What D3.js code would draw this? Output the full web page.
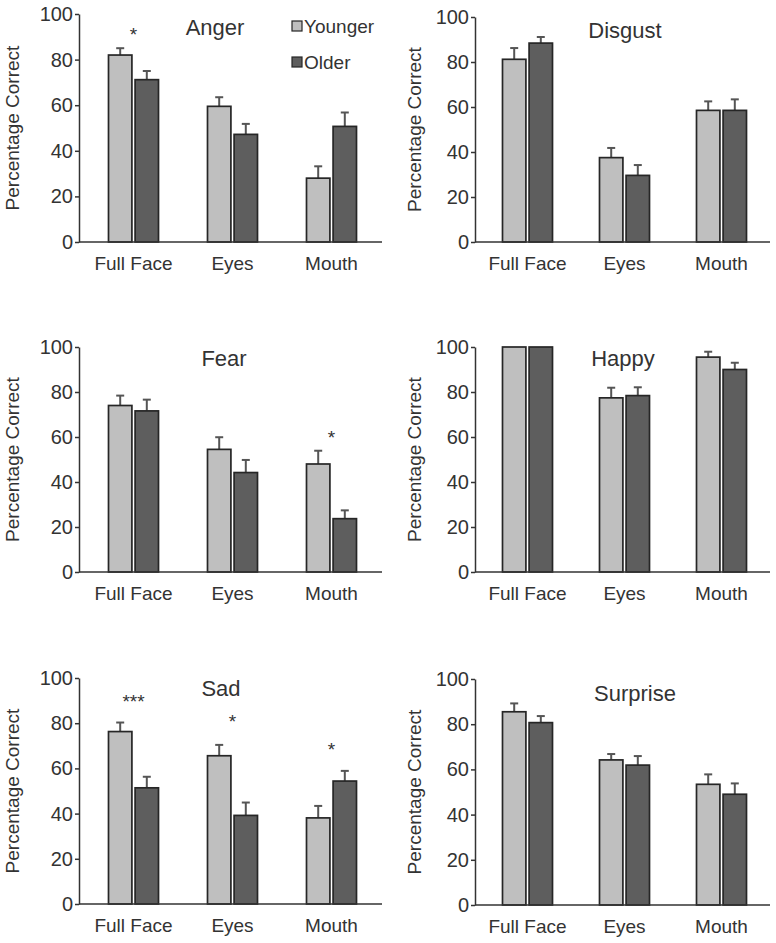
<!DOCTYPE html>
<html>
<head>
<meta charset="utf-8">
<script src="https://cdn.jsdelivr.net/npm/d3@7"></script>
<style>
  body { margin: 0; background: #fff; }
  svg { display: block; }
  text { font-family: "Liberation Sans", Arial, sans-serif; fill: #333; }
</style>
</head>
<body>
<svg id="chart" width="776" height="943"></svg>
<script>
// ---- data ----
const categories = ["Full Face", "Eyes", "Mouth"];
const emotions = ["Anger", "Disgust", "Fear", "Happy", "Sad", "Surprise"];
const seriesNames = ["Younger", "Older"];
const yTicks = [0, 20, 40, 60, 80, 100];

const younger = [
  [82, 59.5, 28],
  [81.2, 37.5, 58.5],
  [74, 54.5, 48],
  [100, 77.4, 95.5],
  [76.3, 65.6, 38.1],
  [85.5, 64.2, 53.4]
];
const youngerErr = [
  [3, 4, 5.2],
  [5, 4.3, 4],
  [4.4, 5.4, 5.9],
  [0, 4.5, 2.4],
  [4, 4.8, 5.3],
  [3.7, 2.6, 4.4]
];
const older = [
  [71.2, 47.2, 50.7],
  [88.4, 29.6, 58.5],
  [71.6, 44.2, 23.7],
  [100, 78.4, 90],
  [51.4, 39.2, 54.4],
  [80.7, 61.9, 49]
];
const olderErr = [
  [3.8, 4.6, 6.1],
  [2.7, 4.6, 4.9],
  [5, 5.6, 3.7],
  [0, 3.7, 3],
  [4.9, 5.7, 4.5],
  [2.9, 4, 4.8]
];
// significance markers
const sigPanel = [0, 2, 4, 4, 4];
const sigCategory = ["Full Face", "Mouth", "Full Face", "Eyes", "Mouth"];
const sigLabel = ["*", "*", "***", "*", "*"];
const sigValue = [94, 63, 92.5, 83.7, 71.3];

// ---- layout ----
const layout = [
  { ax: 79,  right: 382, top: 14,  bottom: 242, bandL: 84,  bandR: 381, titleX: 215, titleY: 35,  labelX: 12 },
  { ax: 475, right: 770, top: 17,  bottom: 242, bandL: 479, bandR: 770, titleX: 625, titleY: 38,  labelX: 414 },
  { ax: 79,  right: 382, top: 347, bottom: 572, bandL: 84,  bandR: 381, titleX: 224, titleY: 366, labelX: 12 },
  { ax: 475, right: 770, top: 347, bottom: 572, bandL: 479, bandR: 770, titleX: 623, titleY: 366, labelX: 414 },
  { ax: 79,  right: 382, top: 678, bottom: 904, bandL: 84,  bandR: 381, titleX: 221, titleY: 696, labelX: 12 },
  { ax: 475, right: 770, top: 679, bottom: 905, bandL: 479, bandR: 770, titleX: 635, titleY: 701, labelX: 414 }
];
const colors = { Younger: "#bfbfbf", Older: "#5e5e5e" };
const strokeCol = "#262626";
const errCol = "#555";
const barW = 22, gap = 6;

const svg = d3.select("#chart");

emotions.forEach((emo, i) => {
  const L = layout[i];
  const g = svg.append("g");
  const y = d3.scaleLinear().domain([0, 100]).range([L.bottom, L.top]);
  const x = d3.scaleBand().domain(categories).range([L.bandL, L.bandR]);
  const xs = d3.scaleBand().domain(seriesNames).range([-barW - gap / 2, barW + gap / 2]).paddingInner(gap / (2 * barW + gap));

  // y axis
  const yAxis = d3.axisLeft(y).tickValues(yTicks).tickSize(4).tickPadding(2).tickSizeOuter(0);
  const ya = g.append("g").attr("transform", `translate(${L.ax},0)`).call(yAxis);
  ya.select(".domain").attr("stroke", "#333").attr("stroke-width", 1.5);
  ya.selectAll(".tick line").attr("stroke", "#333").attr("stroke-width", 1.5);
  ya.selectAll(".tick text").style("font-size", "20px").attr("fill", "#333")
    .style("font-family", "'Liberation Sans', Arial, sans-serif");

  // y label
  g.append("text")
    .attr("transform", `translate(${L.labelX},${(L.top + L.bottom) / 2}) rotate(-90)`)
    .attr("text-anchor", "middle").attr("dy", "0.35em")
    .style("font-size", "19px").text("Percentage Correct");

  const rows = categories.map((c, k) => [
    { cat: c, s: "Younger", v: younger[i][k], e: youngerErr[i][k] },
    { cat: c, s: "Older", v: older[i][k], e: olderErr[i][k] }
  ]).flat();

  // error bars (upper only)
  rows.forEach(d => {
    const cx = x(d.cat) + x.bandwidth() / 2 + xs(d.s) + xs.bandwidth() / 2;
    if (d.e > 0) {
      g.append("line").attr("x1", cx).attr("x2", cx)
        .attr("y1", y(d.v)).attr("y2", y(d.v + d.e))
        .attr("stroke", errCol).attr("stroke-width", 2);
      g.append("line").attr("x1", cx - 4).attr("x2", cx + 4)
        .attr("y1", y(d.v + d.e)).attr("y2", y(d.v + d.e))
        .attr("stroke", errCol).attr("stroke-width", 2);
    }
  });

  // bars
  g.selectAll("rect.bar").data(rows).join("rect")
    .attr("class", "bar")
    .attr("x", d => x(d.cat) + x.bandwidth() / 2 + xs(d.s))
    .attr("width", xs.bandwidth())
    .attr("y", d => y(d.v))
    .attr("height", d => y(0) - y(d.v))
    .attr("fill", d => colors[d.s])
    .attr("stroke", strokeCol).attr("stroke-width", 1.7);

  // baseline
  g.append("line").attr("x1", L.ax).attr("x2", L.right)
    .attr("y1", y(0)).attr("y2", y(0))
    .attr("stroke", "#333").attr("stroke-width", 1.5);

  // x labels
  const xAxis = d3.axisBottom(x).tickSize(0).tickPadding(15);
  const xa = g.append("g").attr("transform", `translate(0,${y(0)})`).call(xAxis);
  xa.select(".domain").remove();
  xa.selectAll(".tick text").style("font-size", "19px").attr("fill", "#333")
    .style("font-family", "'Liberation Sans', Arial, sans-serif");

  // title
  g.append("text").attr("x", L.titleX).attr("y", L.titleY)
    .attr("text-anchor", "middle").style("font-size", "22px").text(emo);

  // significance
  sigPanel.forEach((p, j) => {
    if (p !== i) return;
    g.append("text")
      .attr("x", x(sigCategory[j]) + x.bandwidth() / 2)
      .attr("y", y(sigValue[j]))
      .attr("dy", "0.7em")
      .attr("text-anchor", "middle").style("font-size", "19px")
      .text(sigLabel[j]);
  });

  // legend in first panel
  if (i === 0) {
    seriesNames.forEach((s, k) => {
      const ly = 26 + k * 36;
      g.append("rect").attr("x", 292).attr("y", ly - 5).attr("width", 10).attr("height", 10)
        .attr("fill", colors[s]).attr("stroke", strokeCol).attr("stroke-width", 1.2);
      g.append("text").attr("x", 304).attr("y", ly).attr("dy", "0.35em")
        .style("font-size", "19px").text(s);
    });
  }
});
</script>
</body>
</html>
